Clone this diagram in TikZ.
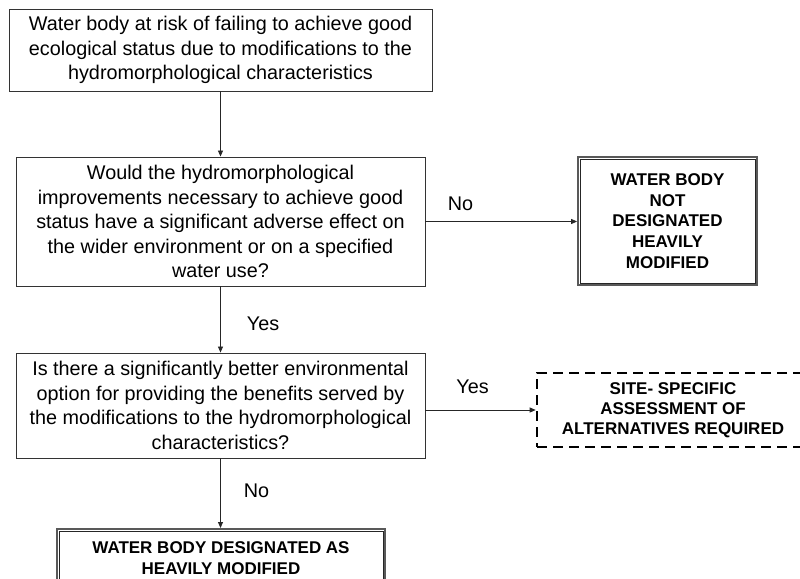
\documentclass[tikz,border=0pt]{standalone}
\usepackage{fontspec}
\setmainfont{Liberation Sans}
\usetikzlibrary{arrows.meta}
\begin{document}
\begin{tikzpicture}[x=1pt,y=-1pt,
  qbox/.style={draw=black!80, line width=0.9pt, align=center, font=\fontsize{19.8}{24.5}\selectfont, inner sep=0pt},
  dblbox/.style={draw=black!65, line width=1.8pt, align=center, font=\bfseries\fontsize{17}{20.7}\selectfont, inner sep=0pt},
  inner/.style={draw=black!85, line width=0.8pt},
  dashbox/.style={draw=black, line width=2.6pt, dash pattern=on 10pt off 6pt, align=center, font=\bfseries\fontsize{17}{20.2}\selectfont, inner sep=0pt},
  btext/.style={align=center, font=\bfseries\fontsize{17}{20.2}\selectfont, inner sep=0pt},
  lab/.style={font=\fontsize{19.8}{24}\selectfont, anchor=base, inner sep=0pt},
  arr/.style={draw=black!85, line width=0.8pt, -{Triangle[length=6pt,width=5pt]}}
]
\useasboundingbox (0,0) rectangle (800,578);
\clip (0,0) rectangle (800,578);

\node[qbox, minimum width=423pt, minimum height=82pt] (b1) at (220.5,50)
  {Water body at risk of failing to achieve good\\ecological status due to modifications to the\\hydromorphological characteristics};
\node[qbox, minimum width=409pt, minimum height=129pt] (b2) at (220.5,221.5)
  {Would the hydromorphological\\improvements necessary to achieve good\\status have a significant adverse effect on\\the wider environment or on a specified\\water use?};
\node[qbox, minimum width=409pt, minimum height=105pt] (b3) at (220.5,405.5)
  {Is there a significantly better environmental\\option for providing the benefits served by\\the modifications to the hydromorphological\\characteristics?};
\node[dblbox, minimum width=179pt, minimum height=128pt] (b4) at (667.5,221)
  {WATER BODY\\NOT\\DESIGNATED\\HEAVILY\\MODIFIED};
\draw[inner] ([shift={(3,3)}]b4.north west) rectangle ([shift={(-3,-3)}]b4.south east);
\node[dashbox, minimum width=272pt, minimum height=74pt] (b5) at (673,410)
  {SITE- SPECIFIC\\ASSESSMENT OF\\ALTERNATIVES REQUIRED};
\node[dblbox, anchor=north, minimum width=328pt, minimum height=80pt] (b6) at (221,528) {};
\draw[inner] ([shift={(3,3)}]b6.north west) rectangle ([shift={(-3,-3)}]b6.south east);
\node[btext, anchor=north] (b6t) at (221,541.8) {WATER BODY DESIGNATED AS\\HEAVILY MODIFIED};

\draw[arr] (b1.south) -- (b2.north);
\draw[arr] (b2.east) -- (b2.east -| b4.west);
\draw[arr] (b2.south) -- (b3.north);
\draw[arr] (b3.east |- b5.west) -- (b5.west);
\draw[arr] (b3.south) -- (b3.south |- b6.north);

\node[lab] (lno1) at (460.5,210) {No};
\node[lab] (lyes1) at (263,330) {Yes};
\node[lab] (lyes2) at (472.5,393) {Yes};
\node[lab] (lno2) at (256.5,497) {No};
\end{tikzpicture}
\end{document}
